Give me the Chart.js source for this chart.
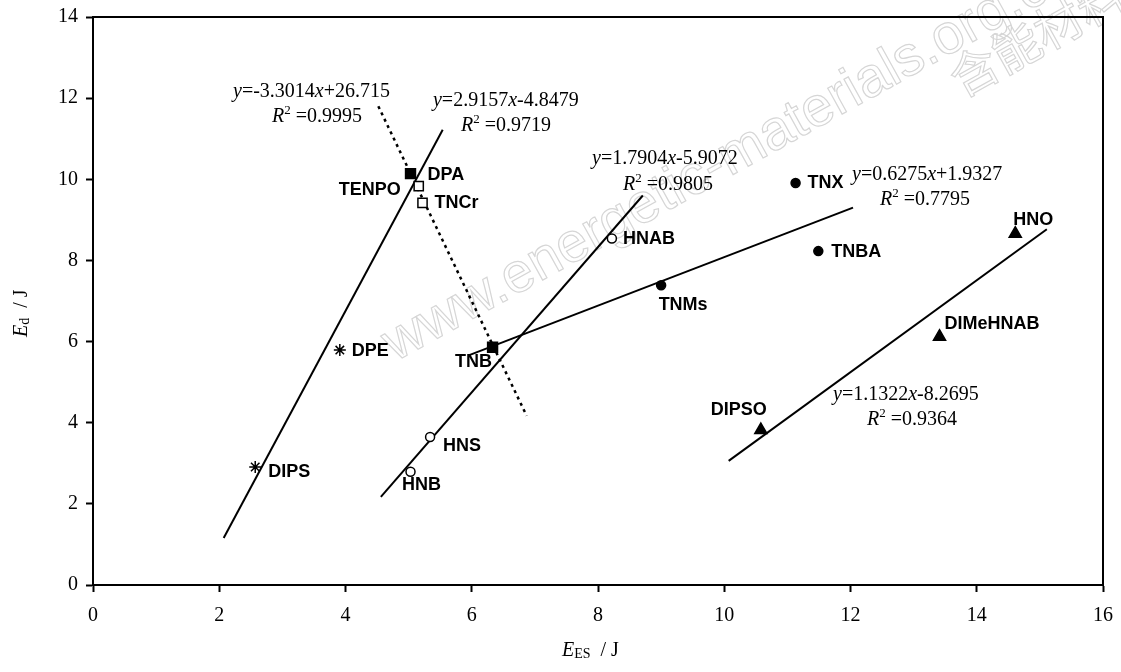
<!DOCTYPE html>
<html>
<head>
<meta charset="utf-8">
<script src="https://cdn.jsdelivr.net/npm/chart.js@4.4.0/dist/chart.umd.min.js"></script>
<style>
  html, body { margin: 0; padding: 0; background: #fff; }
  #wrap { width: 1121px; height: 672px; }
</style>
</head>
<body>
<div id="wrap"><canvas id="chart"></canvas></div>
<script>
// E_ES and E_d (J), grouped by marker
const filledSquareNames = ['DPA', 'TNB'];
const filledSquareX = [5.03, 6.33];
const filledSquareY = [10.14, 5.86];

const openSquareNames = ['TENPO', 'TNCr'];
const openSquareX = [5.16, 5.22];
const openSquareY = [9.83, 9.42];

const starNames = ['DPE', 'DIPS'];
const starX = [3.91, 2.57];
const starY = [5.79, 2.91];

const openCircleNames = ['HNS', 'HNB', 'HNAB'];
const openCircleX = [5.34, 5.03, 8.22];
const openCircleY = [3.65, 2.79, 8.54];

const filledCircleNames = ['TNMs', 'TNX', 'TNBA'];
const filledCircleX = [9.00, 11.13, 11.49];
const filledCircleY = [7.39, 9.91, 8.23];

const triangleNames = ['DIPSO', 'DIMeHNAB', 'HNO'];
const triangleX = [10.58, 13.41, 14.61];
const triangleY = [3.82, 6.12, 8.66];

// fitted lines, end points as drawn
const fitDottedX = [4.52, 6.87];
const fitDottedY = [11.80, 4.17];
const fitAX = [2.07, 5.54];
const fitAY = [1.16, 11.22];
const fitBX = [4.56, 8.71];
const fitBY = [2.17, 9.60];
const fitCX = [5.95, 12.04];
const fitCY = [5.66, 9.30];
const fitDX = [10.07, 15.11];
const fitDY = [3.06, 8.77];

const fitEquations = ['y=-3.3014x+26.715', 'y=2.9157x-4.8479', 'y=1.7904x-5.9072', 'y=0.6275x+1.9327', 'y=1.1322x-8.2695'];
const fitR2 = ['0.9995', '0.9719', '0.9805', '0.7795', '0.9364'];

const xTicks = [0, 2, 4, 6, 8, 10, 12, 14, 16];
const yTicks = [0, 2, 4, 6, 8, 10, 12, 14];

// where the texts sit (not data)
const nameLabelPos = {
  DPA: ['left', 17, 1], TENPO: ['right', -18, 4], TNCr: ['left', 12, 0],
  DPE: ['left', 12, 1], DIPS: ['left', 13, 5], TNB: ['center', -19, 15],
  HNS: ['left', 13, 9], HNB: ['center', 11, 13], HNAB: ['left', 11, 1],
  TNMs: ['center', 22, 20], TNX: ['left', 12, 0], TNBA: ['left', 13, 1],
  DIPSO: ['center', -22, -20], DIMeHNAB: ['left', 5, -13], HNO: ['center', 18, -14]
};
// [eq x, eq y, R2 x, R2 y] in axis units, left edge / baseline
const eqPos = [
  [2.218, 12.028, 2.836, 11.412],
  [5.386, 11.806, 5.830, 11.190],
  [7.905, 10.377, 8.396, 9.736],
  [12.024, 9.982, 12.467, 9.366],
  [11.723, 4.560, 12.261, 3.944]
];

const serif = '"Liberation Serif", "Times New Roman", serif';
const sans = '"Liberation Sans", Arial, sans-serif';

function pts(xs, ys) {
  return xs.map((x, i) => ({ x: x, y: ys[i] }));
}

function markers(data, style, radius, fill) {
  return {
    data: data, showLine: false, pointStyle: style, pointRadius: radius,
    backgroundColor: fill, borderColor: '#000', borderWidth: 1.5, order: 0
  };
}

function fitLine(data, dash) {
  return {
    data: data, showLine: true, pointRadius: 0, borderColor: '#000',
    borderWidth: dash ? 2.5 : 2, borderDash: dash || [], order: 1
  };
}

// writes y=..x.. with italic letters, ^2 as superscript
function richText(ctx, str, x, y) {
  let cx = x;
  for (let i = 0; i < str.length; i++) {
    const ch = str[i];
    if (ch === '^') {
      ctx.font = '13px ' + serif;
      ctx.fillText(str[i + 1], cx, y - 8);
      cx += ctx.measureText(str[i + 1]).width;
      i++;
      continue;
    }
    ctx.font = (ch === 'x' || ch === 'y' || ch === 'R' ? 'italic ' : '') + '20px ' + serif;
    ctx.fillText(ch, cx, y);
    cx += ctx.measureText(ch).width;
  }
}

function axisTitle(ctx, sub) {
  ctx.font = 'italic 20px ' + serif;
  ctx.fillText('E', 0, 0);
  let cx = ctx.measureText('E').width;
  ctx.font = '14px ' + serif;
  ctx.fillText(sub, cx, 2);
  cx += ctx.measureText(sub).width + 10;
  ctx.font = '20px ' + serif;
  ctx.fillText('/ J', cx, 0);
}

// let layout padding alone decide the plot box
function noScalePadding(s) {
  s.paddingTop = 0;
  s.paddingBottom = 0;
  s.paddingLeft = 0;
  s.paddingRight = 0;
}

const overlay = {
  id: 'overlay',
  beforeDatasetsDraw(chart) {
    const ctx = chart.ctx;
    ctx.save();
    ctx.strokeStyle = '#d6d6d6';
    ctx.lineWidth = 1.2;
    ctx.textBaseline = 'alphabetic';
    ctx.translate(395, 362);
    ctx.rotate(-29 * Math.PI / 180);
    ctx.font = '56px ' + sans;
    ctx.strokeText('www.energetic-materials.org.cn', 0, 0);
    ctx.restore();
    ctx.save();
    ctx.strokeStyle = '#d6d6d6';
    ctx.lineWidth = 1.2;
    ctx.translate(962, 98);
    ctx.rotate(-29 * Math.PI / 180);
    ctx.font = '48px "Noto Sans CJK SC"';
    ctx.strokeText('含能材料', 0, 0);
    ctx.restore();
  },
  afterDraw(chart) {
    const ctx = chart.ctx;
    const a = chart.chartArea;
    const xs = chart.scales.x;
    const ys = chart.scales.y;
    ctx.save();
    ctx.strokeStyle = '#000';
    ctx.lineWidth = 2;
    ctx.beginPath();
    ctx.moveTo(a.left, a.top);
    ctx.lineTo(a.right, a.top);
    ctx.lineTo(a.right, a.bottom);
    ctx.stroke();

    ctx.fillStyle = '#000';
    ctx.font = 'bold 18px ' + sans;
    ctx.textBaseline = 'middle';
    const groups = [
      [filledSquareNames, filledSquareX, filledSquareY],
      [openSquareNames, openSquareX, openSquareY],
      [starNames, starX, starY],
      [openCircleNames, openCircleX, openCircleY],
      [filledCircleNames, filledCircleX, filledCircleY],
      [triangleNames, triangleX, triangleY]
    ];
    groups.forEach(g => {
      g[0].forEach((name, i) => {
        const p = nameLabelPos[name];
        ctx.textAlign = p[0];
        ctx.fillText(name, xs.getPixelForValue(g[1][i]) + p[1], ys.getPixelForValue(g[2][i]) + p[2]);
      });
    });

    ctx.textAlign = 'left';
    ctx.textBaseline = 'alphabetic';
    fitEquations.forEach((eq, i) => {
      const p = eqPos[i];
      richText(ctx, eq, xs.getPixelForValue(p[0]), ys.getPixelForValue(p[1]));
      richText(ctx, 'R^2 =' + fitR2[i], xs.getPixelForValue(p[2]), ys.getPixelForValue(p[3]));
    });

    ctx.save();
    ctx.translate(562, 656);
    axisTitle(ctx, 'ES');
    ctx.restore();
    ctx.save();
    ctx.translate(27, 337);
    ctx.rotate(-Math.PI / 2);
    axisTitle(ctx, 'd');
    ctx.restore();
    ctx.restore();
  }
};

const tickFont = { family: serif, size: 20 };

new Chart(document.getElementById('chart'), {
  type: 'scatter',
  data: {
    datasets: [
      markers(pts(filledSquareX, filledSquareY), 'rect', 7, '#000'),
      markers(pts(openSquareX, openSquareY), 'rect', 6.5, '#fff'),
      markers(pts(starX, starY), 'star', 6, '#000'),
      markers(pts(openCircleX, openCircleY), 'circle', 4.5, '#fff'),
      markers(pts(filledCircleX, filledCircleY), 'circle', 4.5, '#000'),
      markers(pts(triangleX, triangleY), 'triangle', 7, '#000'),
      fitLine(pts(fitDottedX, fitDottedY), [3, 4]),
      fitLine(pts(fitAX, fitAY)),
      fitLine(pts(fitBX, fitBY)),
      fitLine(pts(fitCX, fitCY)),
      fitLine(pts(fitDX, fitDY))
    ]
  },
  options: {
    responsive: true,
    maintainAspectRatio: false,
    animation: false,
    layout: { padding: { top: 17, right: 18, left: 0, bottom: 0 } },
    plugins: { legend: { display: false }, tooltip: { enabled: false } },
    scales: {
      x: {
        type: 'linear', min: 0, max: 16,
        afterBuildTicks: s => { s.ticks = xTicks.map(v => ({ value: v })); },
        afterFit: s => { s.height = 87; noScalePadding(s); },
        grid: { drawOnChartArea: false, drawTicks: true, tickLength: 7, tickWidth: 2, tickColor: '#000' },
        border: { display: true, color: '#000', width: 2 },
        ticks: { color: '#000', padding: 12, maxRotation: 0, font: tickFont }
      },
      y: {
        type: 'linear', min: 0, max: 14,
        afterBuildTicks: s => { s.ticks = yTicks.map(v => ({ value: v })); },
        afterFit: s => { s.width = 93; noScalePadding(s); },
        grid: { drawOnChartArea: false, drawTicks: true, tickLength: 7, tickWidth: 2, tickColor: '#000' },
        border: { display: true, color: '#000', width: 2 },
        ticks: { color: '#000', padding: 8, font: tickFont }
      }
    }
  },
  plugins: [overlay]
});
</script>
</body>
</html>
